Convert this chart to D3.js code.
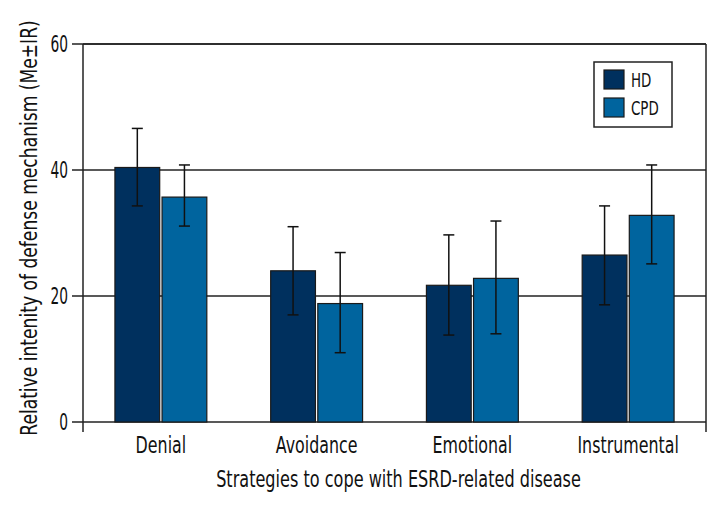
<!DOCTYPE html>
<html>
<head>
<meta charset="utf-8">
<script src="https://cdn.jsdelivr.net/npm/d3@7"></script>
<style>
  body { margin: 0; background: #fff; }
  text { font-family: "DejaVu Sans", sans-serif; fill: #111; }
</style>
</head>
<body>
<div id="chart"></div>
<script>
// coping strategies, medians with IR
const categories = ["Denial", "Avoidance", "Emotional", "Instrumental"];
const groups = ["HD", "CPD"];
const hdValues = [40.4, 24.0, 21.7, 26.5];
const hdLow = [34.3, 17.0, 13.8, 18.6];
const hdHigh = [46.6, 31.0, 29.7, 34.3];
const cpdValues = [35.7, 18.8, 22.8, 32.8];
const cpdLow = [31.1, 11.0, 14.0, 25.1];
const cpdHigh = [40.8, 26.9, 31.9, 40.8];
const yTicks = [0, 20, 40, 60];

let margin = { top: 44, right: 14, bottom: 106, left: 83 };
let width = 720 - margin.left - margin.right;
let height = 528 - margin.top - margin.bottom;

let svg = d3.select("#chart").append("svg")
    .attr("width", 720)
    .attr("height", 528)
    .append("g")
    .attr("transform", `translate(${margin.left},${margin.top})`);

// the original uses a condensed face, so squeeze the text horizontally
function label(parent, x, y, str, size, anchor, sx, rotate) {
    return parent.append("text")
        .attr("transform", `translate(${x},${y})` + (rotate ? ` rotate(${rotate})` : "") + ` scale(${sx},1)`)
        .attr("text-anchor", anchor || "start")
        .style("font-size", size + "px")
        .text(str);
}

let color = d3.scaleOrdinal().domain(groups).range(["#00305e", "#00649e"]);

let x0 = d3.scaleBand().domain(categories).range([0, width])
    .paddingInner(0.41).paddingOuter(0.205);
let x1 = d3.scaleBand().domain(groups).range([0, x0.bandwidth()]).paddingInner(0.05);
let y = d3.scaleLinear().domain([0, 60]).range([height, 0]);

// gridlines with left ticks
svg.append("g")
    .selectAll("line")
    .data(yTicks)
    .enter().append("line")
    .attr("x1", -11)
    .attr("x2", width)
    .attr("y1", d => y(d))
    .attr("y2", d => y(d))
    .attr("stroke", "#222")
    .attr("stroke-width", 1.5);

yTicks.forEach(t => {
    label(svg, -15, y(t) + 8, t, 23, "end", 0.6);
});

// rows of data for the bars
let rows = [];
categories.forEach((c, i) => {
    rows.push({ cat: c, group: "HD", value: hdValues[i], low: hdLow[i], high: hdHigh[i] });
    rows.push({ cat: c, group: "CPD", value: cpdValues[i], low: cpdLow[i], high: cpdHigh[i] });
});

svg.append("g")
    .selectAll("rect")
    .data(rows)
    .enter().append("rect")
    .attr("x", d => x0(d.cat) + x1(d.group))
    .attr("y", d => y(d.value))
    .attr("width", x1.bandwidth())
    .attr("height", d => y(0) - y(d.value))
    .attr("fill", d => color(d.group))
    .attr("stroke", "#1a1a1a")
    .attr("stroke-width", 1.2);

// error bars
let err = svg.append("g").selectAll("g")
    .data(rows)
    .enter().append("g")
    .attr("stroke", "#111")
    .attr("stroke-width", 1.5);

let cx = d => x0(d.cat) + x1(d.group) + x1.bandwidth() / 2;
err.append("line")
    .attr("x1", cx).attr("x2", cx)
    .attr("y1", d => y(d.low)).attr("y2", d => y(d.high));
err.append("line")
    .attr("x1", d => cx(d) - 5.5).attr("x2", d => cx(d) + 5.5)
    .attr("y1", d => y(d.high)).attr("y2", d => y(d.high));
err.append("line")
    .attr("x1", d => cx(d) - 5.5).attr("x2", d => cx(d) + 5.5)
    .attr("y1", d => y(d.low)).attr("y2", d => y(d.low));

// frame
svg.append("line").attr("x1", 0).attr("x2", width).attr("y1", 0).attr("y2", 0)
    .attr("stroke", "#222").attr("stroke-width", 1.5);
svg.append("line").attr("x1", 0).attr("x2", 0).attr("y1", 0).attr("y2", height + 10)
    .attr("stroke", "#222").attr("stroke-width", 1.5);
svg.append("line").attr("x1", width).attr("x2", width).attr("y1", 0).attr("y2", height + 10)
    .attr("stroke", "#222").attr("stroke-width", 1.5);

// category labels
categories.forEach(c => {
    label(svg, x0(c) + x0.bandwidth() / 2, height + 31, c, 23, "middle", 0.69);
});

label(svg, width / 2 + 4, height + 65, "Strategies to cope with ESRD-related disease", 23, "middle", 0.7);

label(svg, -46, height / 2 - 5, "Relative intenity of defense mechanism (Me±IR)", 23, "middle", 0.745, -90);

// legend
let legend = svg.append("g")
    .attr("transform", `translate(${594 - margin.left},${62 - margin.top})`);
legend.append("rect")
    .attr("width", 78).attr("height", 65)
    .attr("fill", "#fff").attr("stroke", "#222").attr("stroke-width", 1.5);
groups.forEach((g, i) => {
    legend.append("rect")
        .attr("x", 10).attr("y", 8 + i * 28)
        .attr("width", 20).attr("height", 19)
        .attr("fill", color(g)).attr("stroke", "#1a1a1a").attr("stroke-width", 1.2);
    label(legend, 37, 25 + i * 28, g, 20, "start", 0.67);
});
</script>
</body>
</html>
